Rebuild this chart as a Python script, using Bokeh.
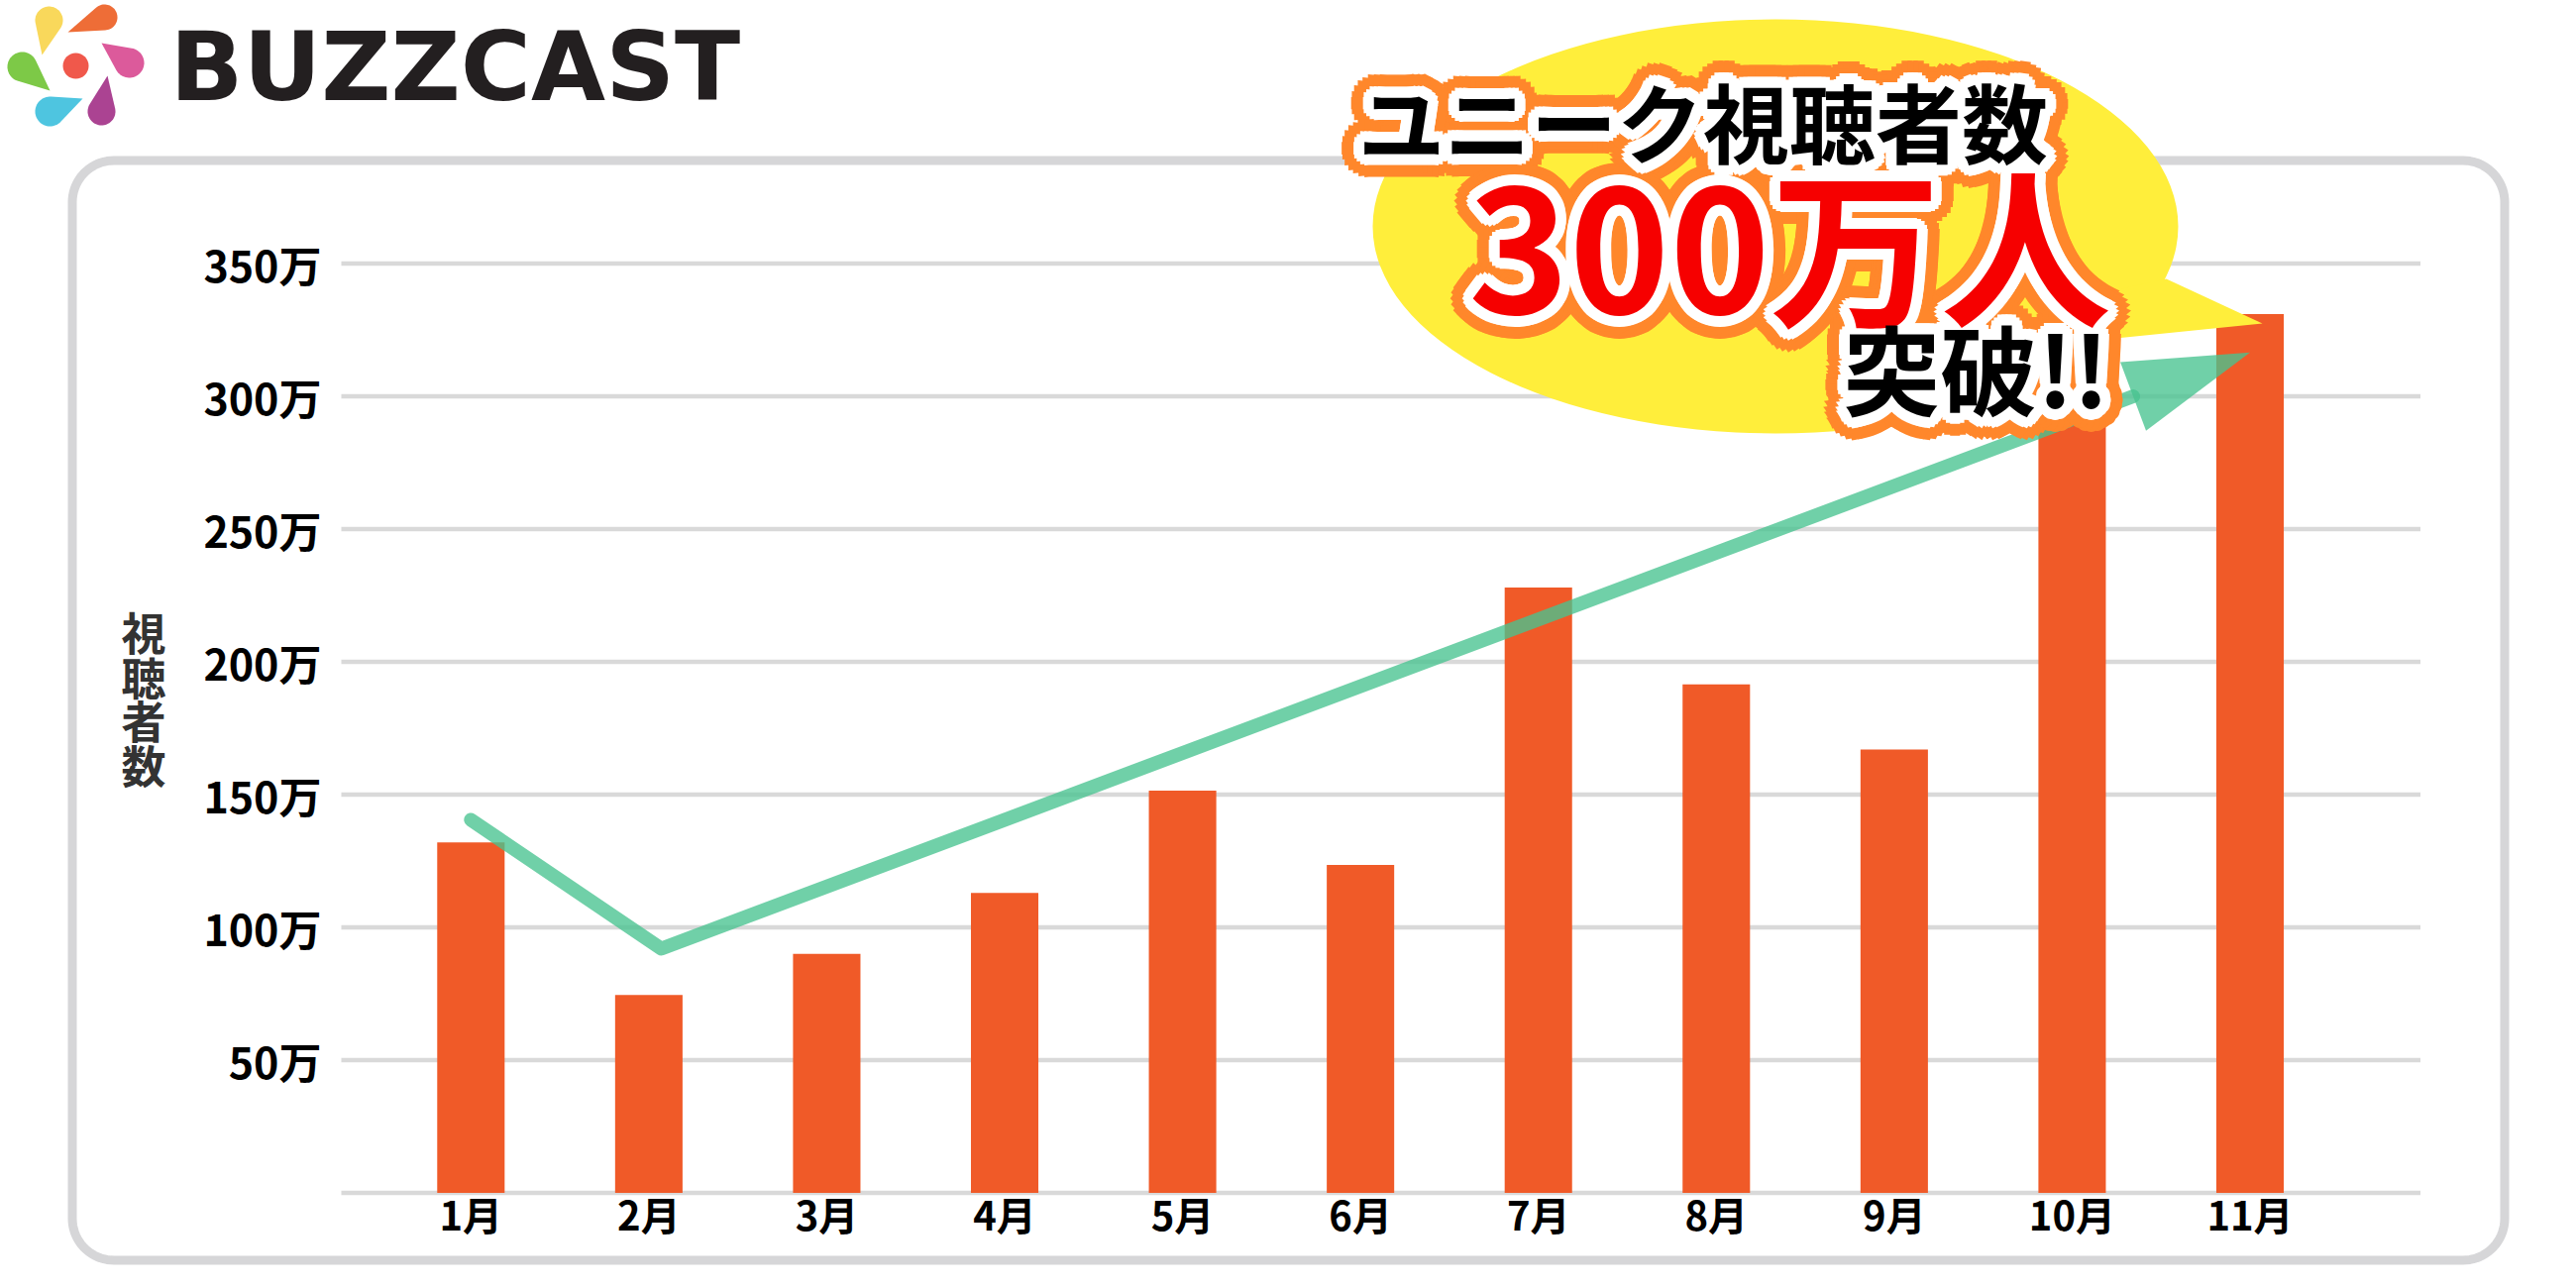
import numpy as np
from bokeh.plotting import figure
from bokeh.models import Range1d, LinearAxis, FixedTicker, PrintfTickFormatter, ColumnDataSource
from bokeh.core.properties import value
from bokeh.embed import file_html
from bokeh.resources import INLINE

# ---------------- data ----------------
months = ["1月", "2月", "3月", "4月", "5月", "6月", "7月", "8月", "9月", "10月", "11月"]
viewers = [132, 74.5, 90, 113, 151.5, 123.5, 228, 191.5, 167, 300, 331]   # 万人
y_ticks = [50, 100, 150, 200, 250, 300, 350]
grid_values = [0, 50, 100, 150, 200, 250, 300, 350]
trend_month = [0, 1.07, 10.0]          # trend arrow points (month index)
trend_value = [140.5, 92, 316.5]       # trend arrow points (万)
y_title = "視聴者数"
headline_1 = "ユニーク視聴者数"
headline_2 = "300万人"
headline_3 = "突破!!"
brand = "BUZZCAST"

# ---------------- layout constants ----------------
W, H = 2580, 1280
OFF = 0
X0, DX = 474.8, 179.57      # pixel of first month, pixels per month
Y0, DY = 1203.5, 2.68       # pixel of value 0, pixels per 万
FONT = "Noto Sans CJK JP"

month_idx = list(range(len(months)))

p = figure(width=W, height=H,
           x_range=Range1d((OFF - X0) / DX, (OFF + W - X0) / DX),
           y_range=Range1d((Y0 - (OFF + H)) / DY, (Y0 - OFF) / DY),
           output_backend="svg", toolbar_location=None,
           x_axis_location=None, y_axis_location=None,
           min_border=0, outline_line_color=None, background_fill_color="white")
p.grid.visible = False
p.extra_x_ranges = {"px": Range1d(OFF, OFF + W)}
p.extra_y_ranges = {"px": Range1d(OFF + H, OFF)}
PX = dict(x_range_name="px", y_range_name="px")

# ---------------- frame ----------------
def rounded_rect(x0, y0, x1, y1, r, n=20):
    xs, ys = [], []
    for cx, cy, a0, a1 in [(x1 - r, y0 + r, -90, 0), (x1 - r, y1 - r, 0, 90),
                           (x0 + r, y1 - r, 90, 180), (x0 + r, y0 + r, 180, 270)]:
        a = np.radians(np.linspace(a0, a1, n))
        xs += list(cx + r * np.cos(a))
        ys += list(cy + r * np.sin(a))
    return xs, ys

fx, fy = rounded_rect(72.5, 161.5, 2527.5, 1271.5, 42)
p.patch(fx, fy, fill_color=None, line_color="#D6D6D8", line_width=9, **PX)

# ---------------- grid ----------------
gx0 = (344 - X0) / DX
gx1 = (2442.5 - X0) / DX
p.segment(x0=[gx0] * len(grid_values), y0=grid_values,
          x1=[gx1] * len(grid_values), y1=grid_values,
          line_color="#D9D9D9", line_width=4.5)

# ---------------- bars ----------------
p.vbar(x=month_idx, top=viewers, bottom=0, width=0.379, fill_color="#F05A28", line_color=None)

# ---------------- trend arrow ----------------
def to_px(m, v):
    return X0 + np.asarray(m) * DX, Y0 - np.asarray(v) * DY

def to_data(px, py):
    return (np.asarray(px) - X0) / DX, (Y0 - np.asarray(py)) / DY

tx, ty = to_px(trend_month, trend_value)
u = np.array([tx[-1] - tx[-2], ty[-1] - ty[-2]])
u = u / np.hypot(*u)
perp = np.array([-u[1], u[0]])
L, HW = 126, 37
base = np.array([tx[-1], ty[-1]]) - L * u
head_px = np.array([[tx[-1], ty[-1]], base + HW * perp, base - HW * perp])
hx, hy = to_data(head_px[:, 0], head_px[:, 1])
bx, by = to_data(base[0], base[1])
shaft_m = list(trend_month[:-1]) + [float(bx)]
shaft_v = list(trend_value[:-1]) + [float(by)]
GREEN = "#48C390"
p.line(shaft_m, shaft_v, line_color=GREEN, line_alpha=0.78, line_width=14,
       line_cap="round", line_join="round")
p.patch(list(hx), list(hy), fill_color=GREEN, fill_alpha=0.78, line_color=None)

# ---------------- speech bubble ----------------
YELLOW = "#FFEE3B"
p.ellipse(x=[1791.5], y=[228], width=[813], height=[418], fill_color=YELLOW, line_color=None, **PX)
p.patch([2186, 2283, 2125, 2100], [281, 326, 342, 300], fill_color=YELLOW, line_color=None, **PX)

# ---------------- headline texts with thick outlines ----------------
heads = [
    (headline_1, 1718.5, 120, 87, "#000000"),
    (headline_2, 1806, 241.5, 172, "#F60000"),
    (headline_3, 1994, 368, 98, "#000000"),
]

def ring_source(radii, n):
    xs, ys, txt, xo, yo, sz = [], [], [], [], [], []
    for t, x, y, s, _ in heads:
        for r in radii:
            for a in np.linspace(0, 2 * np.pi, n, endpoint=False):
                xs.append(x); ys.append(y); txt.append(t)
                xo.append(float(r * np.cos(a))); yo.append(float(r * np.sin(a)))
                sz.append(f"{s}px")
    return ColumnDataSource(dict(x=xs, y=ys, text=txt, xo=xo, yo=yo, size=sz))

common = dict(text_font=value(FONT), text_font_style="bold", text_align="center",
              text_baseline="middle", **PX)
p.text(x="x", y="y", text="text", x_offset="xo", y_offset="yo", text_font_size="size",
       text_color="#FF872B", source=ring_source([13, 18, 23], 24), **common)
p.text(x="x", y="y", text="text", x_offset="xo", y_offset="yo", text_font_size="size",
       text_color="#FFFFFF", source=ring_source([4, 8, 11], 16), **common)
fill_src = ColumnDataSource(dict(x=[h[1] for h in heads], y=[h[2] for h in heads],
                                 text=[h[0] for h in heads], size=[f"{h[3]}px" for h in heads],
                                 color=[h[4] for h in heads]))
p.text(x="x", y="y", text="text", text_font_size="size", text_color="color",
       source=fill_src, **common)

# ---------------- y title ----------------
p.text(x=[144.5], y=[704], text=["\n".join(y_title)], text_font=value(FONT),
       text_font_style="bold", text_font_size="45px", text_color="#333333",
       text_align="center", text_baseline="middle", text_line_height=0.69, **PX)

# ---------------- logo ----------------
def teardrop(cx, cy, r, tx_, ty_, n=40):
    d = np.hypot(tx_ - cx, ty_ - cy)
    phi = np.arctan2(ty_ - cy, tx_ - cx)
    th = np.arccos(min(r / d, 1.0))
    a = np.linspace(phi + th, phi + 2 * np.pi - th, n)
    return list(cx + r * np.cos(a)) + [tx_], list(cy + r * np.sin(a)) + [ty_]

petals = [
    (49, 20, 14, 42, 55, "#F9D85B"),
    (105, 17, 13, 68, 32, "#EE6D37"),
    (130, 63, 15, 102, 43, "#DC5A9B"),
    (22, 67, 15, 50, 91, "#7DC947"),
    (50, 112, 15, 83, 99, "#4EC5E0"),
    (102, 112, 14, 108, 76, "#AB4392"),
]
for cx, cy, r, t_x, t_y, col in petals:
    xs, ys = teardrop(cx, cy, r, t_x, t_y)
    p.patch(xs, ys, fill_color=col, line_color=None, **PX)
p.scatter(x=[76], y=[66], size=26, marker="circle", fill_color="#F0584B", line_color=None, **PX)
p.text(x=[171], y=[67], text=[brand], text_font=value("DejaVu Sans"), text_font_style="bold",
       text_font_size="97px", text_color="#231F20", text_align="left",
       text_baseline="alphabetic", **PX)

# ---------------- axes ----------------
yaxis = LinearAxis(ticker=FixedTicker(ticks=y_ticks), formatter=PrintfTickFormatter(format="%d万"),
                   fixed_location=gx0)
xaxis = LinearAxis(ticker=FixedTicker(ticks=month_idx),
                   major_label_overrides={i: m for i, m in zip(month_idx, months)},
                   fixed_location=0)
for ax in (yaxis, xaxis):
    ax.axis_line_color = None
    ax.major_tick_line_color = None
    ax.minor_tick_line_color = None
    ax.major_tick_out = 0
    ax.major_tick_in = 0
    ax.minor_tick_out = 0
    ax.minor_tick_in = 0
    ax.major_label_text_font = FONT
    ax.major_label_text_font_style = "bold"
    ax.major_label_text_color = "#000000"
yaxis.major_label_text_font_size = "43px"
xaxis.major_label_text_font_size = "40px"
yaxis.major_label_standoff = 20
xaxis.major_label_standoff = -8
p.add_layout(yaxis, "left")
p.add_layout(xaxis, "below")

open("out.html", "w").write(file_html(p, INLINE))
